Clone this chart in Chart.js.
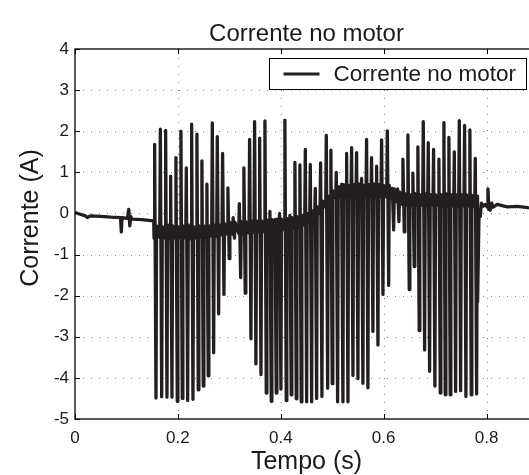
<!DOCTYPE html>
<html><head><meta charset="utf-8">
<script src="https://cdn.jsdelivr.net/npm/chart.js@4.4.1/dist/chart.umd.min.js"></script>
<style>html,body{margin:0;padding:0;overflow:hidden;background:#fff;width:529px;height:475px}canvas{display:block}</style>
</head><body>
<canvas id="c" width="545" height="475"></canvas>
<script>
const chartTitle = 'Corrente no motor';
const xTitle = 'Tempo (s)';
const yTitle = 'Corrente (A)';
const seriesLabel = 'Corrente no motor';
const xTicks = [0, 0.2, 0.4, 0.6, 0.8];
const yTicks = [-5, -4, -3, -2, -1, 0, 1, 2, 3, 4];
const xMin = 0, xMax = 0.9, yMin = -5, yMax = 4;

// quiet start
const headTimes  = [0, 0.010, 0.020, 0.024, 0.030, 0.050, 0.070, 0.0885, 0.0900, 0.0915, 0.1020, 0.1045, 0.1065, 0.1085, 0.1110, 0.1300, 0.1530];
const headValues = [0.02, -0.02, -0.06, -0.10, -0.06, -0.07, -0.09, -0.10, -0.45, -0.10, -0.12, 0.10, -0.30, -0.08, -0.14, -0.15, -0.18];

// switching cycles
const cycleTimes = [0.1561,0.1672,0.1775,0.1872,0.1975,0.2072,0.2177,0.2280,0.2383,0.2480,
 0.2577,0.2682,0.2779,0.2882,0.2985,0.3087,0.3207,0.3296,0.3407,0.3504,
 0.3602,0.3705,0.3802,0.3899,0.3990,0.4093,0.4190,0.4288,0.4385,0.4490,
 0.4587,0.4684,0.4787,0.4898,0.4987,0.5092,0.5195,0.5293,0.5390,0.5487,
 0.5584,0.5681,0.5778,0.5876,0.5973,0.6084,0.6181,0.6284,0.6387,0.6484,
 0.6581,0.6678,0.6783,0.6880,0.6983,0.7087,0.7184,0.7281,0.7386,0.7483,
 0.7586,0.7689,0.7794];
const cycleHigh = [1.68,2.05,2.02,0.91,1.36,2.00,1.11,2.17,1.93,1.28,
 0.71,2.20,1.87,1.46,0.62,-0.10,0.24,1.11,1.80,2.23,
 1.83,2.25,0.05,-0.15,0.00,2.27,-0.05,1.24,1.18,1.56,
 1.19,0.61,1.23,1.90,1.54,1.00,0.71,1.46,1.60,1.48,
 0.85,1.80,1.36,1.15,1.79,2.01,0.61,0.60,1.32,1.91,
 0.98,1.62,2.23,1.72,1.56,1.32,2.21,1.85,1.50,2.26,
 2.14,2.03,1.34];
const cycleLow = [-4.49,-4.46,-4.47,-4.47,-4.57,-4.50,-4.55,-4.52,-4.29,-4.20,
 -3.95,-3.39,-2.44,-1.97,-1.10,-0.60,-1.56,-1.94,-3.05,-3.66,
 -3.92,-4.37,-4.57,-4.37,-4.27,-4.55,-4.41,-4.51,-4.58,-4.58,
 -4.58,-4.50,-4.45,-4.25,-4.14,-4.58,-4.58,-4.58,-3.94,-4.02,
 -4.13,-4.24,-2.87,-3.20,-1.97,-1.75,-0.40,-0.20,-0.45,-1.85,
 -1.29,-2.85,-3.32,-3.84,-4.20,-4.37,-4.41,-4.41,-4.33,-4.31,
 -4.45,-4.41,-4.39];
const cycleBase = [-0.60,-0.58,-0.60,-0.62,-0.60,-0.58,-0.60,-0.62,-0.60,-0.58,
 -0.58,-0.55,-0.55,-0.52,-0.50,-0.50,-0.48,-0.50,-0.48,-0.46,
 -0.45,-0.45,-0.45,-0.42,-0.42,-0.40,-0.38,-0.36,-0.33,-0.28,
 -0.22,-0.12,0.00,0.15,0.28,0.38,0.40,0.42,0.40,0.42,
 0.40,0.42,0.42,0.40,0.40,0.40,0.35,0.28,0.22,0.20,
 0.20,0.20,0.20,0.18,0.20,0.20,0.18,0.20,0.18,0.18,
 0.18,0.18,0.16];
const cycleAfter = [-0.30,-0.32,-0.28,-0.30,-0.32,-0.30,-0.28,-0.32,-0.30,-0.30,
 -0.30,-0.28,-0.28,-0.25,-0.22,-0.22,-0.20,-0.20,-0.18,-0.18,
 -0.18,-0.16,-0.15,-0.14,-0.14,-0.12,-0.10,-0.08,-0.05,0.00,
 0.06,0.16,0.30,0.42,0.55,0.65,0.70,0.68,0.70,0.72,
 0.68,0.70,0.72,0.70,0.68,0.68,0.60,0.52,0.48,0.46,
 0.48,0.46,0.48,0.46,0.45,0.46,0.48,0.46,0.45,0.46,
 0.45,0.44,0.42];

// quiet end
const tailTimes  = [0.7818, 0.7833, 0.7855, 0.7878, 0.7900, 0.7936, 0.7980, 0.8012, 0.8027, 0.8045, 0.8072, 0.8100, 0.8130, 0.8208, 0.8400, 0.8600, 0.8800, 0.9000];
const tailValues = [0.20, -2.15, 0.10, -0.08, 0.25, 0.18, 0.22, 0.15, 0.60, 0.10, 0.08, 0.25, 0.15, 0.22, 0.16, 0.17, 0.14, 0.12];

const FONT = "'Liberation Sans', Arial, Helvetica, sans-serif";
const INK = '#1a1a1a';
const LINE = '#231f20';

const points = [];
headTimes.forEach((t, i) => points.push({x: t, y: headValues[i]}));
cycleTimes.forEach((t, i) => {
  points.push({x: t - 0.0025, y: cycleBase[i]});
  points.push({x: t - 0.0013, y: cycleHigh[i]});
  points.push({x: t + 0.0013, y: cycleLow[i]});
  points.push({x: t + 0.0025, y: cycleAfter[i]});
});
tailTimes.forEach((t, i) => points.push({x: t, y: tailValues[i]}));

const framePlugin = {
  id: 'frame',
  beforeDatasetsDraw(chart) {
    const {ctx, chartArea: a, scales: {x, y}} = chart;
    ctx.save();
    ctx.strokeStyle = '#808080';
    ctx.lineWidth = 1;
    ctx.setLineDash([1, 7]);
    xTicks.forEach(v => {
      const px = Math.round(x.getPixelForValue(v)) + 0.5;
      if (px <= a.left + 1) return;
      ctx.beginPath(); ctx.moveTo(px, a.bottom); ctx.lineTo(px, a.top); ctx.stroke();
    });
    yTicks.forEach(v => {
      const py = Math.round(y.getPixelForValue(v)) + 0.5;
      if (py >= a.bottom - 1 || py <= a.top + 1) return;
      ctx.beginPath(); ctx.moveTo(a.left, py); ctx.lineTo(a.right, py); ctx.stroke();
    });
    ctx.restore();
  },
  afterDatasetsDraw(chart) {
    const {ctx, chartArea: a, scales: {x, y}} = chart;
    ctx.save();
    ctx.strokeStyle = '#000';
    ctx.lineWidth = 1.3;
    ctx.strokeRect(a.left, a.top, a.right - a.left, a.bottom - a.top);
    ctx.lineWidth = 1;
    const tl = 5;
    xTicks.forEach(v => {
      const px = Math.round(x.getPixelForValue(v)) + 0.5;
      ctx.beginPath(); ctx.moveTo(px, a.bottom); ctx.lineTo(px, a.bottom - tl);
      ctx.moveTo(px, a.top); ctx.lineTo(px, a.top + tl); ctx.stroke();
    });
    yTicks.forEach(v => {
      const py = Math.round(y.getPixelForValue(v)) + 0.5;
      ctx.beginPath(); ctx.moveTo(a.left, py); ctx.lineTo(a.left + tl, py);
      ctx.moveTo(a.right, py); ctx.lineTo(a.right - tl, py); ctx.stroke();
    });
    // legend
    const lw = 257, lh = 31;
    const lx = Math.round(a.right - 12 - lw) + 0.5, ly = Math.round(a.top + 9) + 0.5;
    ctx.fillStyle = '#fff';
    ctx.fillRect(lx, ly, lw, lh);
    ctx.strokeStyle = '#000';
    ctx.lineWidth = 1;
    ctx.strokeRect(lx, ly, lw, lh);
    const ds = chart.data.datasets[0];
    ctx.strokeStyle = ds.borderColor;
    ctx.lineWidth = 3;
    ctx.beginPath(); ctx.moveTo(lx + 14, ly + lh / 2); ctx.lineTo(lx + 50, ly + lh / 2); ctx.stroke();
    ctx.fillStyle = INK;
    ctx.font = '22.5px ' + FONT;
    ctx.textAlign = 'left';
    ctx.textBaseline = 'middle';
    ctx.fillText(ds.label, lx + 64, ly + lh / 2 + 1);
    // title
    ctx.font = '24px ' + FONT;
    ctx.textAlign = 'center';
    ctx.textBaseline = 'alphabetic';
    ctx.fillText(chartTitle, (a.left + a.right) / 2, 41);
    // y axis title
    ctx.save();
    ctx.translate(38, 218);
    ctx.rotate(-Math.PI / 2);
    ctx.font = '25px ' + FONT;
    ctx.textAlign = 'center';
    ctx.textBaseline = 'alphabetic';
    ctx.fillText(yTitle, 0, 0);
    ctx.restore();
    ctx.restore();
  }
};

new Chart(document.getElementById('c'), {
  type: 'line',
  data: {datasets: [{
    label: seriesLabel, data: points, borderColor: LINE, borderWidth: 3.3,
    pointRadius: 0, tension: 0, fill: false, borderJoinStyle: 'round', borderCapStyle: 'butt'
  }]},
  options: {
    responsive: false, animation: false, events: [],
    layout: {padding: {top: 49, right: 7, left: 0, bottom: 0}},
    plugins: {legend: {display: false}, title: {display: false}, tooltip: {enabled: false}},
    scales: {
      x: {
        type: 'linear', min: xMin, max: xMax,
        afterBuildTicks: s => { s.ticks = xTicks.map(v => ({value: v})); },
        afterFit: s => { s.height = 56; },
        grid: {display: false, drawTicks: false}, border: {display: false},
        ticks: {font: {family: FONT, size: 17, lineHeight: 1}, color: INK, padding: 11, maxRotation: 0, autoSkip: false, callback: v => String(v)},
        title: {display: true, text: xTitle, font: {family: FONT, size: 25, lineHeight: 1}, color: INK, padding: {top: 0, bottom: 0}}
      },
      y: {
        type: 'linear', min: yMin, max: yMax,
        afterBuildTicks: s => { s.ticks = yTicks.map(v => ({value: v})); },
        afterFit: s => { s.width = 75; },
        grid: {display: false, drawTicks: false}, border: {display: false},
        ticks: {font: {family: FONT, size: 17, lineHeight: 1}, color: INK, padding: 6, autoSkip: false, callback: v => String(v)},
        title: {display: false}
      }
    }
  },
  plugins: [framePlugin]
});
</script>
</body></html>
